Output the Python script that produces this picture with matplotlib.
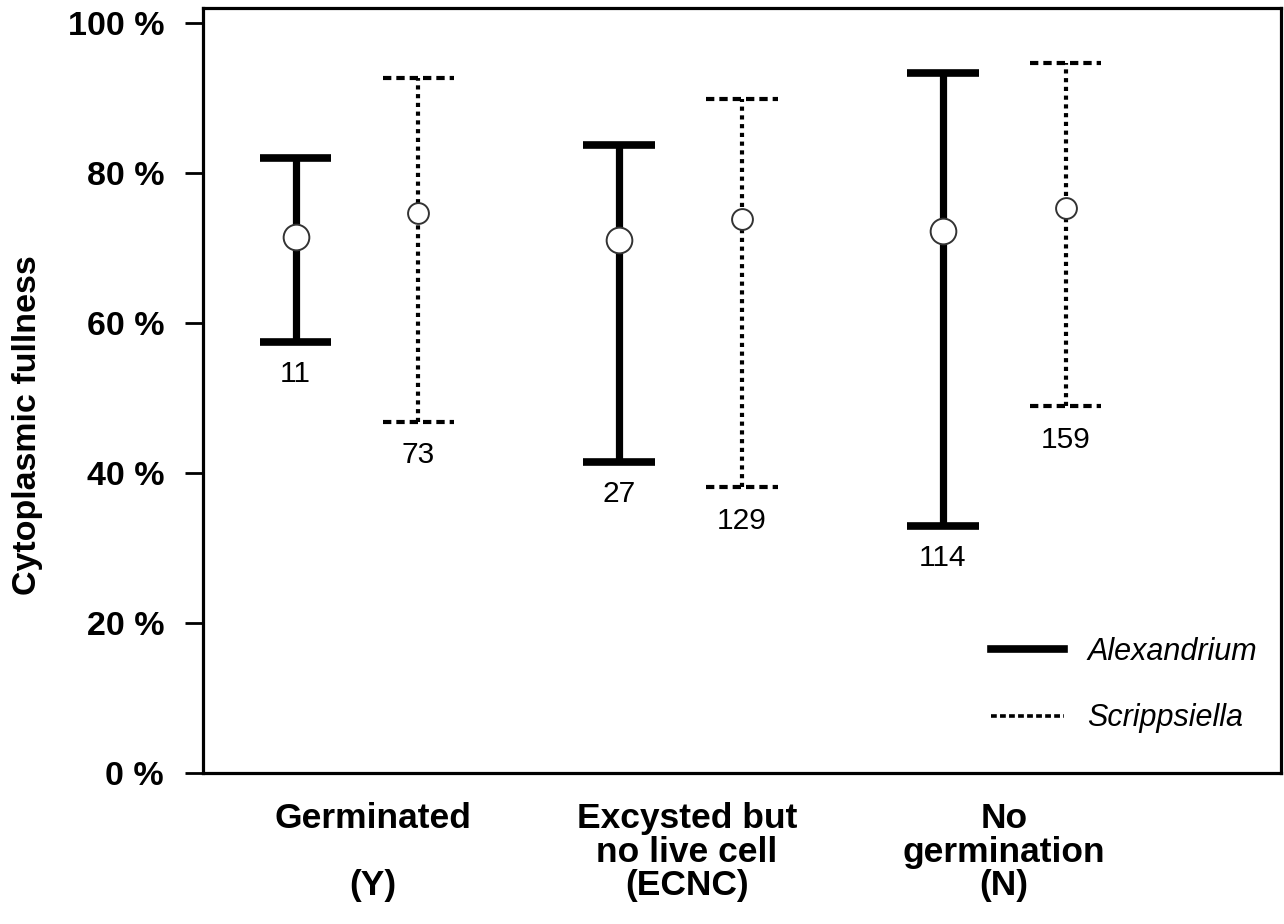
import matplotlib
matplotlib.use("Agg")
import matplotlib.pyplot as plt
from matplotlib.lines import Line2D

plt.rcParams['font.family'] = ['Liberation Sans', 'DejaVu Sans']

# ---- data ----
categories = ["Germinated\n\n(Y)", "Excysted but\nno live cell\n(ECNC)", "No\ngermination\n(N)"]
alex_mean = [71.5, 71.1, 72.3]
alex_low = [57.5, 41.5, 32.9]
alex_high = [82.0, 83.7, 93.3]
alex_n = [11, 27, 114]
scrip_mean = [74.7, 73.9, 75.3]
scrip_low = [46.8, 38.1, 48.9]
scrip_high = [92.7, 89.9, 94.7]
scrip_n = [73, 129, 159]
yticks = [0, 20, 40, 60, 80, 100]
ytick_labels = ["0 %", "20 %", "40 %", "60 %", "80 %", "100 %"]

# ---- layout ----
W, H = 1284, 924
fig = plt.figure(figsize=(W / 100, H / 100), dpi=100)
ax = fig.add_axes([203 / W, (H - 773) / H, (1281 - 203) / W, (773 - 8) / H])

offset = 0.19
cap_half = 0.111
label_shift = [0.05, 0.02, 0.0]
xs = list(range(len(categories)))
ax_x = [x - offset for x in xs]
sc_x = [x + offset for x in xs]

# Alexandrium: solid thick
ax.vlines(ax_x, alex_low, alex_high, colors='black', linewidth=5.2, zorder=2)
for x, lo, hi in zip(ax_x, alex_low, alex_high):
    ax.hlines([lo, hi], x - cap_half, x + cap_half, colors='black', linewidth=5.5, zorder=2)
ax.plot(ax_x, alex_mean, linestyle='none', marker='o', markersize=18.5,
        markerfacecolor='white', markeredgecolor='#333333', markeredgewidth=1.4, zorder=3)

# Scrippsiella: dotted
ax.vlines(sc_x, scrip_low, scrip_high, colors='black', linewidth=3.0,
          linestyles=[(0, (1.0, 1.1))], zorder=2)
for x, lo, hi in zip(sc_x, scrip_low, scrip_high):
    ax.hlines([lo, hi], x - cap_half, x + cap_half, colors='black', linewidth=3.0,
              linestyles=[(0, (2.0, 1.2))], zorder=2)
ax.plot(sc_x, scrip_mean, linestyle='none', marker='o', markersize=15,
        markerfacecolor='white', markeredgecolor='#333333', markeredgewidth=1.4, zorder=3)

# n labels
for x, lo, n in zip(ax_x, alex_low, alex_n):
    ax.annotate(str(n), (x, lo), xytext=(0, -23), textcoords='offset points',
                ha='center', va='center', fontsize=21.5)
for x, lo, n in zip(sc_x, scrip_low, scrip_n):
    ax.annotate(str(n), (x, lo), xytext=(0, -24), textcoords='offset points',
                ha='center', va='center', fontsize=21.5)

# axes
ax.set_xlim(-0.476, 2.856)
ax.set_ylim(0, 102)
ax.set_yticks(yticks)
ax.set_yticklabels(ytick_labels, fontsize=24.5, fontweight='bold')
ax.tick_params(axis='y', direction='out', length=13, width=2.0, pad=15)
ax.set_xticks([x + s for x, s in zip(xs, label_shift)])
ax.set_xticklabels(categories, fontsize=25.5, fontweight='bold', linespacing=1.02)
ax.tick_params(axis='x', length=0, pad=21)
for sp in ax.spines.values():
    sp.set_linewidth(2.3)

ax.set_ylabel("Cytoplasmic fullness", fontsize=24.5, fontweight='bold')
ax.yaxis.set_label_coords(-0.148, 0.455)

# legend
handles = [Line2D([], [], color='black', linewidth=5.5),
           Line2D([], [], color='black', linewidth=2.6, linestyle=(0, (1.6, 0.9)))]
leg = ax.legend(handles, ["Alexandrium", "Scrippsiella"], loc='lower right',
                bbox_to_anchor=(1.003, 0.016), frameon=False, handlelength=2.4,
                handletextpad=0.75, labelspacing=1.2, prop={'size': 22, 'style': 'italic'})

fig.savefig("out.png", dpi=100)
